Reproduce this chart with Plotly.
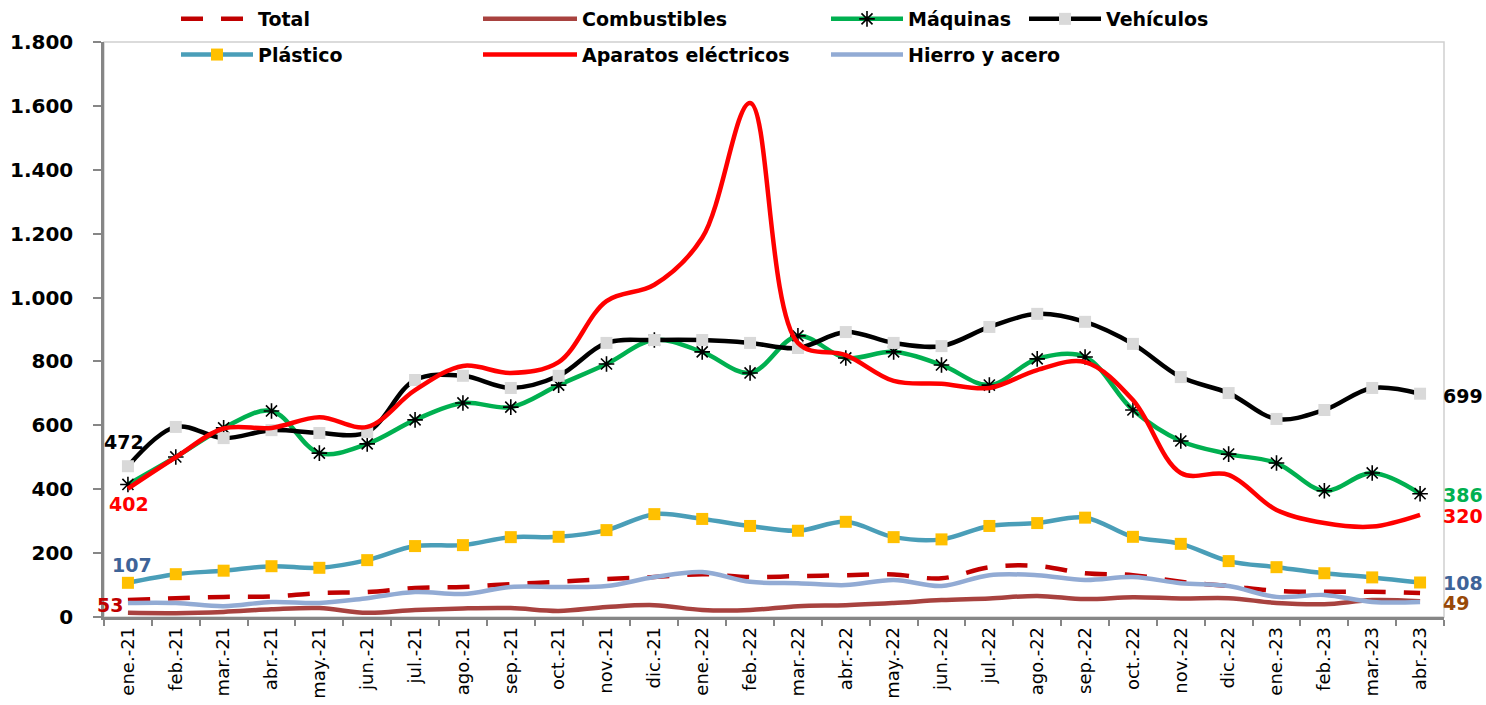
import plotly.graph_objects as go

months = ["ene.-21","feb.-21","mar.-21","abr.-21","may.-21","jun.-21","jul.-21","ago.-21","sep.-21","oct.-21","nov.-21","dic.-21",
          "ene.-22","feb.-22","mar.-22","abr.-22","may.-22","jun.-22","jul.-22","ago.-22","sep.-22","oct.-22","nov.-22","dic.-22",
          "ene.-23","feb.-23","mar.-23","abr.-23"]

total = [53, 59, 63, 64, 75, 78, 91, 94, 103, 110, 119, 125, 134, 125, 128, 131, 133, 121, 156, 160, 137, 131, 110, 97, 82, 79, 79, 75]
combustibles = [13, 12, 16, 24, 28, 13, 22, 27, 28, 19, 31, 37, 22, 22, 34, 37, 44, 53, 58, 66, 56, 62, 58, 59, 44, 40, 53, 49]
maquinas = [415, 501, 592, 645, 513, 542, 617, 670, 657, 726, 792, 867, 830, 764, 880, 811, 830, 789, 726, 808, 814, 648, 551, 510, 482, 395, 451, 386]
vehiculos = [472, 595, 560, 585, 576, 579, 742, 755, 717, 755, 858, 867, 867, 858, 842, 892, 858, 848, 908, 949, 924, 855, 751, 701, 620, 648, 717, 699]
plastico = [107, 134, 145, 159, 154, 178, 222, 225, 250, 251, 272, 322, 307, 285, 270, 298, 250, 243, 285, 294, 311, 251, 229, 175, 156, 137, 124, 108]
aparatos = [402, 500, 590, 592, 625, 595, 710, 786, 764, 798, 989, 1040, 1187, 1609, 858, 820, 739, 730, 717, 773, 798, 679, 451, 445, 335, 294, 283, 320]
hierro = [44, 44, 34, 47, 44, 59, 78, 72, 94, 94, 97, 125, 141, 110, 106, 100, 116, 97, 131, 131, 116, 125, 106, 97, 63, 69, 47, 47]

y_ticks = [0, 200, 400, 600, 800, 1000, 1200, 1400, 1600, 1800]

LW = 4.5
LEG_FONT = dict(family="DejaVu Sans", size=19, color="#000000", weight="bold")

fig = go.Figure()

def add(name, y, color, legend, dash=None, marker=None, group=None):
    line = dict(color=color, width=LW, shape="spline", smoothing=1.0)
    if dash:
        line["dash"] = dash
    kw = dict(x=months, y=y, name=name, legend=legend, legendgroup=group or name,
              line=line, hoverinfo="x+y+name")
    if marker:
        kw["mode"] = "lines+markers"
        kw["marker"] = marker
    else:
        kw["mode"] = "lines"
    fig.add_trace(go.Scatter(**kw))

add("Total", total, "#C00000", "legend", dash="22px,18px")
add("Combustibles", combustibles, "#A8423F", "legend2")
add("Máquinas", maquinas, "#00B050", "legend3",
    marker=dict(symbol="asterisk-open", size=13, color="#000000", line=dict(color="#000000", width=1.6)))
add("Vehículos", vehiculos, "#000000", "legend4",
    marker=dict(symbol="square", size=12, color="#D9D9D9", line=dict(width=0)))
add("Plástico", plastico, "#4A9EB8", "legend",
    marker=dict(symbol="square", size=12, color="#FFC000", line=dict(width=0)))
add("Aparatos eléctricos", aparatos, "#FF0000", "legend2")
add("Hierro y acero", hierro, "#92ABD4", "legend3")

# data labels
lab_font = dict(family="DejaVu Sans", size=19, weight="bold")
first = [
    (vehiculos[0], "#000000", -4, 24, "center"),
    (aparatos[0], "#FF0000", 1, -15, "center"),
    (plastico[0], "#3E6398", 4, 18, "center"),
    (total[0], "#C00000", -3, -5, "right"),
]
for v, c, xs, ys, xa in first:
    fig.add_annotation(x=months[0], y=v, text=f"{v}", showarrow=False, xanchor=xa, yanchor="middle",
                       xshift=xs, yshift=ys, font=dict(color=c, **lab_font))
last = [
    (vehiculos[-1], "#000000", -2),
    (maquinas[-1], "#00B050", -1),
    (aparatos[-1], "#FF0000", -1),
    (plastico[-1], "#3E6398", 0),
    (combustibles[-1], "#984807", -2),
]
for v, c, ys in last:
    fig.add_annotation(x=months[-1], y=v, text=f"{v}", showarrow=False, xanchor="left", yanchor="middle",
                       xshift=21, yshift=ys, font=dict(color=c, **lab_font))

# plot border
fig.add_shape(type="rect", xref="paper", yref="paper", x0=0, x1=1, y0=0, y1=1,
              line=dict(color="#D0D0D0", width=1.5), layer="below")

def leg(xpx, iw=72):
    return dict(x=(xpx - 104) / 1340, y=(617 + 0) / 575, xanchor="left", yanchor="top",
                orientation="v", font=LEG_FONT, bgcolor="rgba(0,0,0,0)", tracegroupgap=8,
                itemwidth=iw)

fig.update_layout(
    width=1486, height=705,
    margin=dict(l=104, r=42, t=42, b=88, autoexpand=False),
    paper_bgcolor="white", plot_bgcolor="white",
    separators=",.",
    showlegend=True,
    legend=leg(176), legend2=leg(478, 94), legend3=leg(826), legend4=leg(1024),
    xaxis=dict(type="category", range=[-0.5, len(months) - 0.5], tickangle=-90,
               tickfont=dict(family="DejaVu Sans", size=18, color="#000000"),
               showline=True, linecolor="#868686", linewidth=2.5,
               ticks="outside", ticklen=6, tickcolor="#868686", tickwidth=2,
               tickson="boundaries", showgrid=False, zeroline=False, automargin=False),
    yaxis=dict(range=[0, 1800], tickvals=y_ticks, tickformat=",d",
               tickfont=dict(family="DejaVu Sans", size=20, color="#000000", weight="bold"),
               showline=True, linecolor="#868686", linewidth=2.5,
               ticks="outside", ticklen=8, tickcolor="#868686", tickwidth=2,
               ticklabelstandoff=16, showgrid=False, zeroline=False, automargin=False),
)

fig.write_html("out.html", config={"displayModeBar": False},
               post_script="document.body.style.margin='0';document.body.style.overflow='hidden';")
